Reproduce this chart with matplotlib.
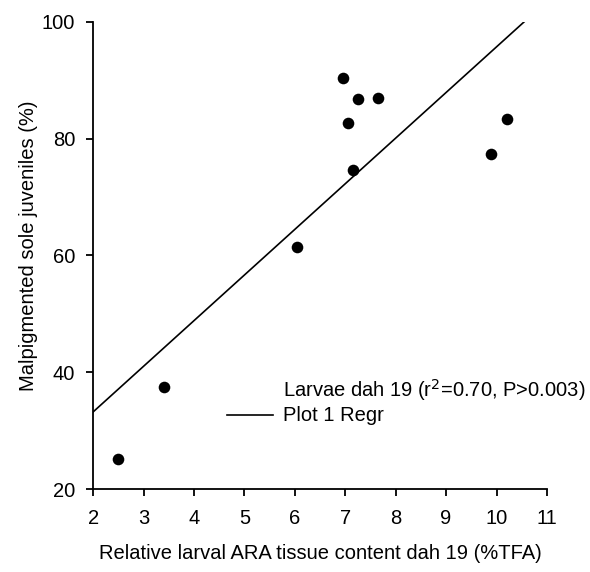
import matplotlib
matplotlib.use("Agg")
import matplotlib.pyplot as plt
import numpy as np

plt.rcParams['font.family'] = ['Liberation Sans', 'DejaVu Sans']

# Data
ara_content = [2.5, 3.4, 6.05, 6.95, 7.05, 7.15, 7.25, 7.65, 9.9, 10.2]
malpigmented = [25.2, 37.4, 61.5, 90.4, 82.6, 74.7, 86.7, 87.0, 77.3, 83.4]

# Regression line
reg_slope = 7.81
reg_intercept = 17.6
reg_x = [2.0, 10.55]

x_ticks = [2, 3, 4, 5, 6, 7, 8, 9, 10, 11]
y_ticks = [20, 40, 60, 80, 100]

fig = plt.figure(figsize=(5.9, 5.72), dpi=100)
ax = fig.add_axes([0.158, 0.145, 0.769, 0.817])

ax.scatter(ara_content, malpigmented, s=70, color='black', zorder=3, linewidths=0)
rx = np.array(reg_x)
ax.plot(rx, reg_slope * rx + reg_intercept, color='black', lw=1.2)

ax.set_xlim(2, 11)
ax.set_ylim(20, 100)
ax.set_xticks(x_ticks)
ax.set_yticks(y_ticks)
for s in ['top', 'right']:
    ax.spines[s].set_visible(False)
for s in ['left', 'bottom']:
    ax.spines[s].set_linewidth(1.3)
ax.tick_params(axis='both', direction='out', length=5, width=1.3, labelsize=14.5)
ax.tick_params(axis='x', pad=9)
ax.tick_params(axis='y', pad=8)

ax.set_xlabel('Relative larval ARA tissue content dah 19 (%TFA)', fontsize=14.5, labelpad=12)
ax.set_ylabel('Malpigmented sole juveniles (%)', fontsize=14.5, labelpad=3)
ax.yaxis.label.set_y(0.52)

# Legend-like annotation
ax.text(0.4185, 0.212, r'Larvae dah 19 (r$^2$=0.70, P>0.003)', transform=ax.transAxes,
        fontsize=14.5, va='center', ha='left')
ax.text(0.4185, 0.158, 'Plot 1 Regr', transform=ax.transAxes,
        fontsize=14.5, va='center', ha='left')
ax.plot([0.295, 0.396], [0.158, 0.158], transform=ax.transAxes, color='black', lw=1.2,
        clip_on=False)

fig.savefig('out.png', dpi=100)
